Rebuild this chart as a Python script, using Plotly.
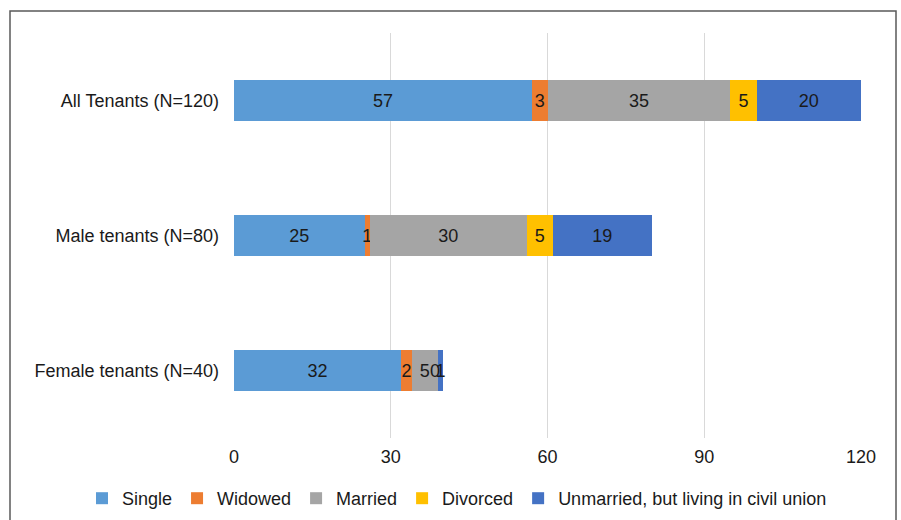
import plotly.graph_objects as go

categories = ["All Tenants (N=120)", "Male tenants (N=80)", "Female tenants (N=40)"]
series_names = ["Single", "Widowed", "Married", "Divorced", "Unmarried, but living in civil union"]
single = [57, 25, 32]
widowed = [3, 1, 2]
married = [35, 30, 5]
divorced = [5, 5, 0]
unmarried = [20, 19, 1]
colors = ["#5B9BD5", "#ED7D31", "#A5A5A5", "#FFC000", "#4472C4"]
x_ticks = [0, 30, 60, 90, 120]

FONT = "Liberation Sans, Arial"
FS = 18
TXT = "#1a1a1a"
W, H = 901, 520
fig = go.Figure()
all_series = [single, widowed, married, divorced, unmarried]
for name, vals, col in zip(series_names, all_series, colors):
    fig.add_trace(go.Bar(
        y=categories, x=vals, name=name, orientation="h",
        marker=dict(color=col, line=dict(width=0)),
        text=[str(v) for v in vals], textposition="inside",
        insidetextanchor="middle",
        textfont=dict(family=FONT, size=FS, color=TXT),
        cliponaxis=False,
    ))

# labels for zero-width segments (drawn at their stacked position)
for i, cat in enumerate(categories):
    cum = 0
    for vals in all_series:
        if vals[i] == 0:
            fig.add_annotation(x=cum, y=cat, text="0", showarrow=False,
                               xanchor="center", yanchor="middle", xshift=-3,
                               font=dict(family=FONT, size=FS, color=TXT))
        cum += vals[i]

ml, mr, mt, mb = 234, 40, 33, 82
fig.update_layout(
    width=W, height=H, barmode="stack", bargap=0.69,
    margin=dict(l=ml, r=mr, t=mt, b=mb, autoexpand=False),
    plot_bgcolor="white", paper_bgcolor="white",
    font=dict(family=FONT, size=FS, color=TXT),
    uniformtext=dict(minsize=FS, mode="show"),
    xaxis=dict(range=[0, 120], tickvals=x_ticks, showgrid=True, gridcolor="#d9d9d9",
               gridwidth=1, zeroline=False, showline=False, ticks="",
               tickfont=dict(size=FS, color=TXT), ticklabelstandoff=6),
    yaxis=dict(autorange="reversed", categoryorder="array", categoryarray=categories,
               showgrid=False, ticks="", showline=False,
               tickfont=dict(size=FS, color=TXT), ticklabelstandoff=14),
    legend=dict(orientation="h", x=(82 - ml) / (W - ml - mr), xanchor="left",
                y=-(480 - mt - (H - mt - mb)) / (H - mt - mb), yanchor="top",
                font=dict(size=FS, color=TXT), itemwidth=30, traceorder="normal",
                bgcolor="rgba(0,0,0,0)"),
    showlegend=True,
)
# outer frame
px = lambda x: (x - ml) / (W - ml - mr)
py = lambda y: 1 - (y - mt) / (H - mt - mb)
fig.add_shape(type="rect", xref="paper", yref="paper",
              x0=px(10), x1=px(896), y0=py(530), y1=py(11),
              line=dict(color="#595959", width=1.5), fillcolor="rgba(0,0,0,0)", layer="below")
fig.write_html("out.html")
